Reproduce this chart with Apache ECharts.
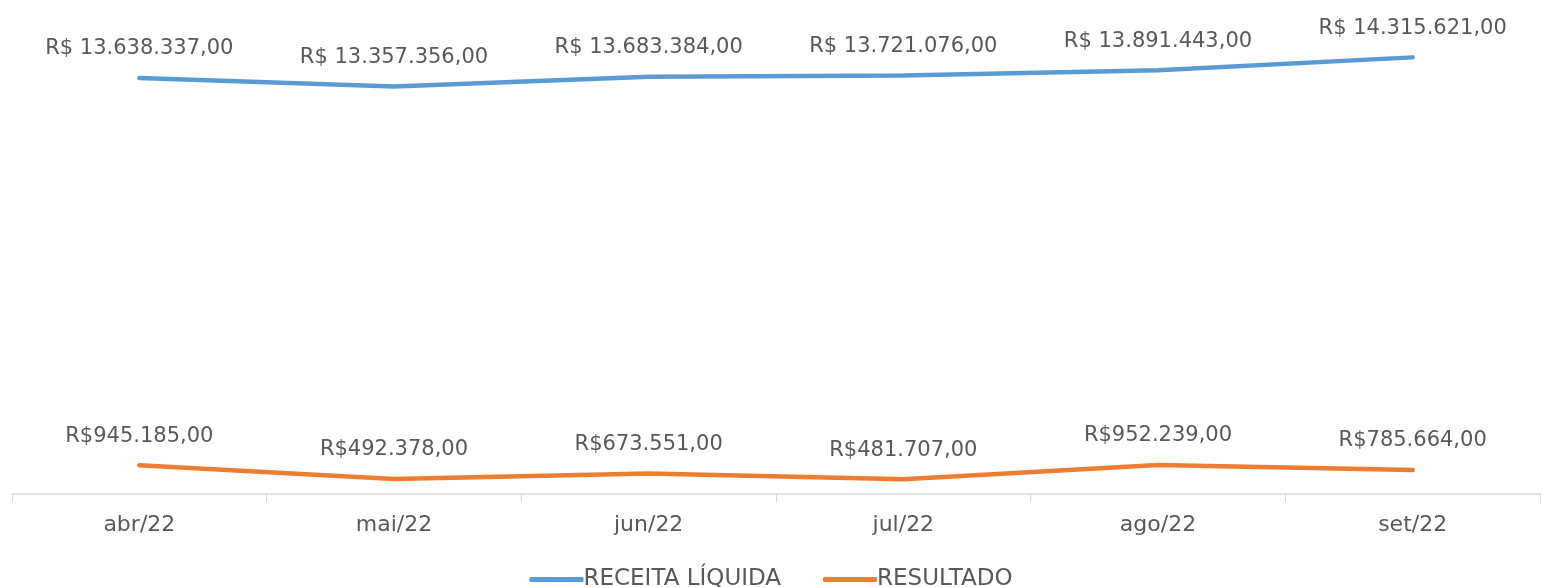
<!DOCTYPE html>
<html>
<head>
<meta charset="utf-8">
<script src="https://cdn.jsdelivr.net/npm/echarts@6/dist/echarts.min.js"></script>
<style>
  html, body { margin: 0; padding: 0; background: #fff; }
  #chart { width: 1542px; height: 587px; }
</style>
</head>
<body>
<div id="chart"></div>
<script>
// dados do gráfico
const meses = ['abr/22', 'mai/22', 'jun/22', 'jul/22', 'ago/22', 'set/22'];
const receitaLiquida = [13638337, 13357356, 13683384, 13721076, 13891443, 14315621];
const resultado = [945185, 492378, 673551, 481707, 952239, 785664];

const FONT = '"Century Gothic", "DejaVu Sans", sans-serif';
const TXT = '#595959';

function brl(v, espaco) {
  const s = v.toLocaleString('pt-BR', { minimumFractionDigits: 2, maximumFractionDigits: 2 });
  return 'R$' + (espaco ? ' ' : '') + s;
}

const chart = echarts.init(document.getElementById('chart'));
chart.setOption({
  animation: false,
  textStyle: { fontFamily: FONT },
  grid: { left: 12, right: 2, top: 6, bottom: 93 },
  legend: {
    bottom: -9,
    left: 'center',
    itemWidth: 54,
    itemHeight: 5,
    itemGap: 42,
    icon: 'roundRect',
    textStyle: { color: TXT, fontSize: 23, fontFamily: FONT, padding: [0, 0, 0, -5] },
    data: ['RECEITA LÍQUIDA', 'RESULTADO']
  },
  xAxis: {
    type: 'category',
    data: meses,
    boundaryGap: true,
    axisLine: { lineStyle: { color: '#d9d9d9', width: 1.5 } },
    axisTick: { show: true, length: 8, lineStyle: { color: '#d9d9d9' } },
    axisLabel: { color: TXT, fontSize: 22, fontFamily: FONT, margin: 20 }
  },
  yAxis: {
    type: 'value',
    min: 0,
    max: 16000000,
    show: false,
    splitLine: { show: false }
  },
  series: [
    {
      name: 'RECEITA LÍQUIDA',
      type: 'line',
      data: receitaLiquida,
      symbol: 'circle',
      symbolSize: 1,
      lineStyle: { color: '#5B9BD5', width: 4.5, cap: 'round' },
      itemStyle: { color: '#5B9BD5' },
      label: {
        show: true, position: 'top', distance: 18,
        color: TXT, fontSize: 21, fontFamily: FONT,
        formatter: p => brl(p.value, true)
      }
    },
    {
      name: 'RESULTADO',
      type: 'line',
      data: resultado,
      symbol: 'circle',
      symbolSize: 1,
      lineStyle: { color: '#ED7D31', width: 4.5, cap: 'round' },
      itemStyle: { color: '#ED7D31' },
      label: {
        show: true, position: 'top', distance: 18,
        color: TXT, fontSize: 21, fontFamily: FONT,
        formatter: p => brl(p.value, false)
      }
    }
  ]
});
</script>
</body>
</html>
